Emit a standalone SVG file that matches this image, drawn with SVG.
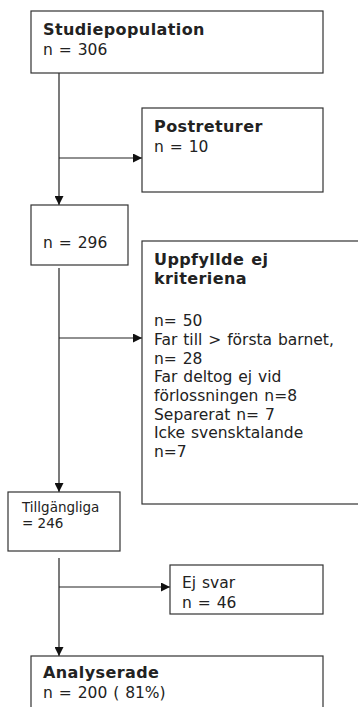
<svg xmlns="http://www.w3.org/2000/svg" width="358" height="707" viewBox="0 0 358 707">
<style>
.box{fill:#fff;stroke:#333;stroke-width:1.2}
.t{font-family:"DejaVu Sans",Verdana,sans-serif;font-size:15.5px;word-spacing:1px;fill:#222}
.b{font-weight:bold;font-size:16px;letter-spacing:0.4px}
.s{font-size:13.5px;word-spacing:0}
.c{stroke:#222;stroke-width:1.2;fill:none}
</style>
<defs>
<marker id="ah" viewBox="0 0 10 10" refX="10" refY="5" markerWidth="9" markerHeight="9" markerUnits="userSpaceOnUse" orient="auto">
<path d="M0,0 L10,5 L0,10 z" fill="#111"/>
</marker>
</defs>
<rect width="358" height="707" fill="#fff"/>
<g id="connectors">
<line class="c" x1="59" y1="73" x2="59" y2="205" marker-end="url(#ah)"/>
<line class="c" x1="59" y1="158" x2="142" y2="158" marker-end="url(#ah)"/>
<line class="c" x1="59" y1="268" x2="59" y2="492" marker-end="url(#ah)"/>
<line class="c" x1="59" y1="338" x2="142" y2="338" marker-end="url(#ah)"/>
<line class="c" x1="59" y1="558" x2="59" y2="656" marker-end="url(#ah)"/>
<line class="c" x1="59" y1="587" x2="170" y2="587" marker-end="url(#ah)"/>
</g>
<g id="studiepopulation">
<rect class="box" x="31" y="11" width="292" height="62"/>
<text class="t b" x="43" y="35">Studiepopulation</text>
<text class="t" x="43" y="55">n = 306</text>
</g>
<g id="postreturer">
<rect class="box" x="142" y="108" width="181" height="84"/>
<text class="t b" x="154" y="132">Postreturer</text>
<text class="t" x="154" y="152">n = 10</text>
</g>
<g id="n296">
<rect class="box" x="31" y="205" width="97" height="60"/>
<text class="t" x="43" y="248">n = 296</text>
</g>
<g id="uppfyllde">
<rect class="box" x="142" y="241" width="230" height="263"/>
<text class="t b" x="154" y="265">Uppfyllde ej</text>
<text class="t b" x="154" y="284">kriteriena</text>
<text class="t" x="154" y="326">n= 50</text>
<text class="t" x="154" y="345">Far till &gt; första barnet,</text>
<text class="t" x="154" y="363.5">n= 28</text>
<text class="t" x="154" y="382">Far deltog ej vid</text>
<text class="t" x="154" y="401">förlossningen n=8</text>
<text class="t" x="154" y="419.5">Separerat n= 7</text>
<text class="t" x="154" y="438">Icke svensktalande</text>
<text class="t" x="154" y="457">n=7</text>
</g>
<g id="tillgangliga">
<rect class="box" x="8" y="492" width="112" height="59"/>
<text class="t s" x="22" y="512">Tillgängliga</text>
<text class="t s" x="22" y="528">= 246</text>
</g>
<g id="ejsvar">
<rect class="box" x="170" y="565" width="153" height="49"/>
<text class="t" x="182" y="588">Ej svar</text>
<text class="t" x="182" y="608">n = 46</text>
</g>
<g id="analyserade">
<rect class="box" x="31" y="656" width="292" height="60"/>
<text class="t b" x="43" y="678">Analyserade</text>
<text class="t" x="43" y="698">n = 200 ( 81%)</text>
</g>
</svg>
